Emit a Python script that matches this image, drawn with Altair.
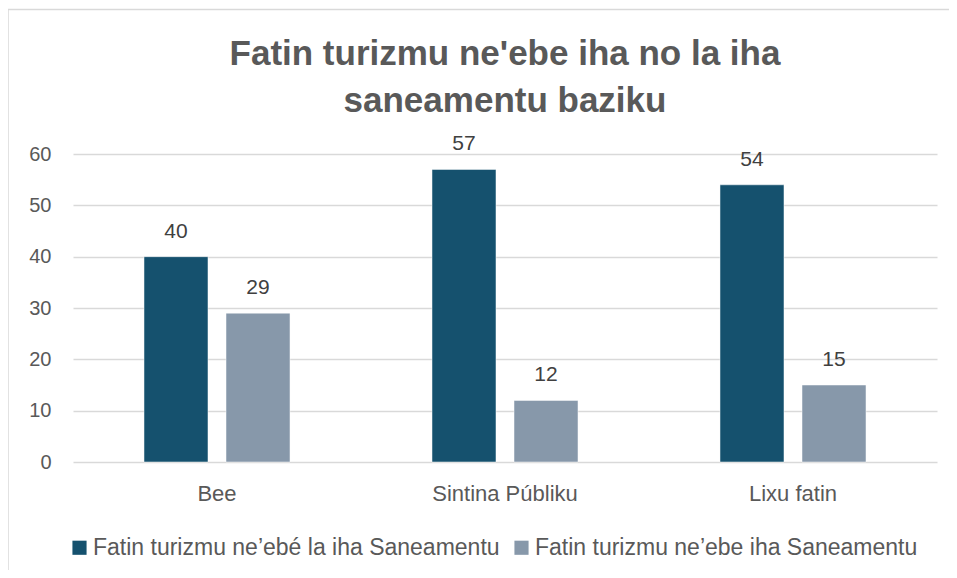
import altair as alt
import pandas as pd

categories = ["Bee", "Sintina Públiku", "Lixu fatin"]
series = ["Fatin turizmu ne’ebé la iha Saneamentu", "Fatin turizmu ne’ebe iha Saneamentu"]
values_la_iha = [40, 57, 54]
values_iha = [29, 12, 15]
colors = ["#15516e", "#8798aa"]

rows = []
for c, a, b in zip(categories, values_la_iha, values_iha):
    rows.append({"cat": c, "series": series[0], "value": a})
    rows.append({"cat": c, "series": series[1], "value": b})
df = pd.DataFrame(rows)

x = alt.X("cat:N", sort=categories, title=None,
          scale=alt.Scale(paddingInner=0.493, paddingOuter=0.2465),
          axis=alt.Axis(labelAngle=0, labelFontSize=22, labelColor="#595959",
                        labelFont="Liberation Sans", labelPadding=21,
                        ticks=False, domain=False, grid=False))
xo = alt.XOffset("series:N", sort=series, scale=alt.Scale(paddingInner=0.2195, paddingOuter=0))
y = alt.Y("value:Q", title=None,
          scale=alt.Scale(domain=[0, 60]),
          axis=alt.Axis(values=[0, 10, 20, 30, 40, 50, 60], labelFontSize=20,
                        labelColor="#595959", labelFont="Liberation Sans",
                        labelPadding=22, ticks=False, domain=False,
                        gridColor="#d9d9d9", gridWidth=1.3))
color = alt.Color("series:N", sort=series,
                  scale=alt.Scale(domain=series, range=colors),
                  legend=alt.Legend(title=None, orient="none", direction="horizontal",
                                    legendX=-5, legendY=382, symbolType="square",
                                    symbolSize=200, symbolStrokeWidth=0,
                                    labelFontSize=23, labelFont="Liberation Sans",
                                    labelColor="#595959", columnPadding=10,
                                    symbolOffset=0, labelOffset=2, labelLimit=0))

base = alt.Chart(df).encode(x=x, xOffset=xo, y=y)
bars = base.mark_bar(stroke="#ffffff", strokeWidth=0.5).encode(color=color)
labels = base.mark_text(dy=-15, baseline="bottom", fontSize=21, color="#404040",
                        font="Liberation Sans").encode(text="value:Q")

frame = alt.Chart(pd.DataFrame({"k": [0]})).mark_rect(
    fill=None, stroke="#d9d9d9", strokeWidth=1.5, clip=False
).encode(x=alt.value(-65), x2=alt.value(900), y=alt.value(-144.5), y2=alt.value(440))

chart = alt.layer(frame, bars, labels).properties(
    width=864, height=308,
    autosize=alt.AutoSizeParams(type="none"),
    padding={"left": 65, "top": 146, "right": 12, "bottom": 108},
    title=alt.TitleParams(
        ["Fatin turizmu ne'ebe iha no la iha", "saneamentu baziku"],
        fontSize=35, font="Liberation Sans", fontWeight="bold", color="#595959",
        anchor="middle", lineHeight=47, offset=-110),
).configure_view(stroke=None)

chart.save("out.html", embed_options={"renderer": "svg", "actions": False})
